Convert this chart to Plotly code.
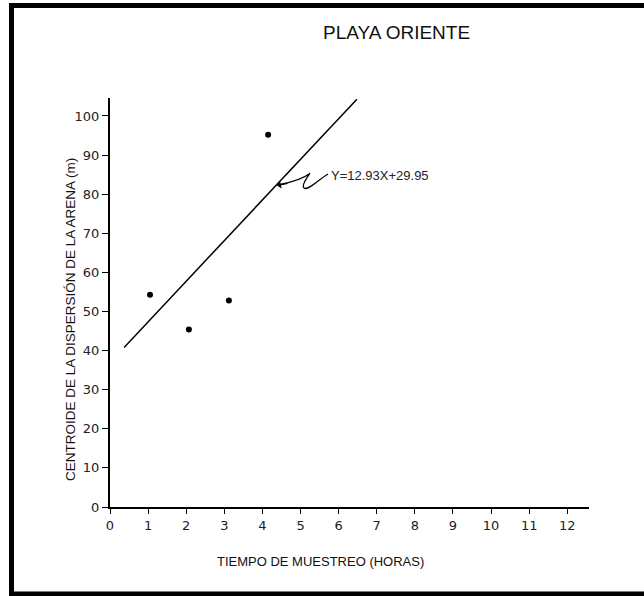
import plotly.graph_objects as go

# Data
hours = [1.05, 2.07, 3.12, 4.15]
centroid = [54.3, 45.4, 52.8, 95.2]
fit_x = [0.37, 6.48]
fit_y = [40.8, 104.3]
x_ticks = list(range(0, 13))
y_ticks = list(range(0, 101, 10))
equation = "Y=12.93X+29.95"

W, H = 644, 596
L, R, T, B = 110, 55, 98, 89
X_RANGE = [0, 12.57]
Y_RANGE = [0, 104.6]

pw = W - L - R
ph = H - T - B


def px2data(px, py):
    x = X_RANGE[0] + (px - L) / pw * (X_RANGE[1] - X_RANGE[0])
    y = Y_RANGE[0] + (H - B - py) / ph * (Y_RANGE[1] - Y_RANGE[0])
    return x, y


def px2paper(px, py):
    return (px - L) / pw, (H - B - py) / ph


fig = go.Figure()
fig.add_trace(go.Scatter(x=fit_x, y=fit_y, mode="lines",
                         line=dict(color="black", width=1.5),
                         cliponaxis=False, hoverinfo="skip"))
fig.add_trace(go.Scatter(x=hours, y=centroid, mode="markers",
                         marker=dict(color="black", size=6),
                         cliponaxis=False))

# squiggle leader from the equation text to the fitted line
p = [px2data(*q) for q in [
    (280, 184.5),
    (292, 182), (304, 178), (309, 174),
    (313, 170), (300, 185), (304, 188),
    (308, 191), (318, 180), (328, 174),
]]
path = "M {:.4f},{:.4f} ".format(*p[0])
path += "C {:.4f},{:.4f} {:.4f},{:.4f} {:.4f},{:.4f} ".format(*p[1], *p[2], *p[3])
path += "C {:.4f},{:.4f} {:.4f},{:.4f} {:.4f},{:.4f} ".format(*p[4], *p[5], *p[6])
path += "C {:.4f},{:.4f} {:.4f},{:.4f} {:.4f},{:.4f}".format(*p[7], *p[8], *p[9])

shapes = [
    dict(type="path", path=path, xref="x", yref="y",
         line=dict(color="black", width=1.3)),
]
# outer black frame
fx0, fy0 = px2paper(11.5, 594)
fx1, fy1 = px2paper(660, 5.5)
shapes.append(dict(type="rect", xref="paper", yref="paper",
                   x0=fx0, y0=fy0, x1=fx1, y1=fy1,
                   line=dict(color="black", width=5)))

tip = px2data(277, 185.5)
tail = px2data(289, 183)
ex, ey = px2data(329, 175)
annotations = [
    dict(x=tip[0], y=tip[1], ax=tail[0], ay=tail[1], axref="x", ayref="y",
         xref="x", yref="y", text="", showarrow=True, arrowhead=1,
         arrowsize=1.0, arrowwidth=1.3, arrowcolor="black"),
    dict(x=ex, y=ey, xref="x", yref="y", text=equation, showarrow=False,
         xanchor="left", yanchor="middle",
         font=dict(family="Liberation Sans, Arial", size=13, color="#222")),
]
tx, ty = px2paper(396, 32)
annotations.append(dict(x=tx, y=ty, xref="paper", yref="paper",
                        text="PLAYA ORIENTE", showarrow=False,
                        xanchor="center", yanchor="middle",
                        font=dict(family="Liberation Sans, Arial", size=19, color="#111")))
xtx, xty = px2paper(320, 561)
annotations.append(dict(x=xtx, y=xty, xref="paper", yref="paper",
                        text="TIEMPO DE MUESTREO (HORAS)", showarrow=False,
                        xanchor="center", yanchor="middle",
                        font=dict(family="Liberation Sans, Arial", size=13, color="#111")))
ytx, yty = px2paper(70, 320)
annotations.append(dict(x=ytx, y=yty, xref="paper", yref="paper",
                        text="CENTROIDE DE LA DISPERSIÓN DE LA ARENA (m)",
                        showarrow=False, textangle=-90,
                        xanchor="center", yanchor="middle",
                        font=dict(family="Liberation Sans, Arial", size=13.5, color="#111")))

tick_font = dict(family="DejaVu Sans, Liberation Sans", size=13, color="#222")
fig.update_layout(
    width=W, height=H,
    margin=dict(l=L, r=R, t=T, b=B),
    paper_bgcolor="white", plot_bgcolor="white",
    showlegend=False,
    shapes=shapes, annotations=annotations,
    xaxis=dict(range=X_RANGE, tickmode="array", tickvals=x_ticks,
               ticktext=[str(v) for v in x_ticks],
               showgrid=False, zeroline=False, showline=True,
               linecolor="black", linewidth=2, ticks="outside",
               ticklen=5, tickwidth=1.3, tickcolor="black",
               tickfont=tick_font),
    yaxis=dict(range=Y_RANGE, tickmode="array", tickvals=y_ticks,
               ticktext=[str(v) for v in y_ticks],
               showgrid=False, zeroline=False, showline=True,
               linecolor="black", linewidth=2, ticks="outside",
               ticklen=6, tickwidth=1.3, tickcolor="black",
               tickfont=tick_font),
)

fig.write_html(
    "out.html",
    config={"displayModeBar": False},
    post_script="document.body.style.margin='0';document.body.style.overflow='hidden';",
)
